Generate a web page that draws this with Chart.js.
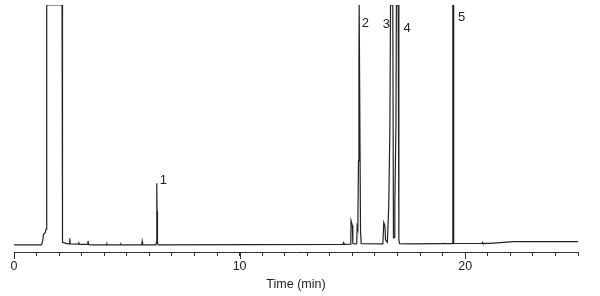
<!DOCTYPE html>
<html><head><meta charset="utf-8">
<script src="https://cdn.jsdelivr.net/npm/chart.js@4.4.0/dist/chart.umd.min.js"></script>
<style>html,body{margin:0;padding:0;background:#fff}canvas{display:block}</style>
</head><body>
<canvas id="c" width="600" height="296"></canvas>
<script>
// Retention time (min)
const times = [
  0.00, 1.22, 1.27, 1.31, 1.38, 1.42, 1.45, 2.13, 2.15, 2.30, 2.45, 2.47, 2.49,
  2.85, 2.88, 2.91, 3.25, 3.28, 3.31, 3.50, 4.10, 4.12, 4.14, 4.72, 4.74, 4.76,
  5.66, 5.68, 5.70, 6.29, 6.31, 6.33, 6.34, 6.36, 6.40,
  14.58, 14.61, 14.64, 14.93, 14.94, 15.00, 15.02, 15.09, 15.19, 15.21, 15.24,
  15.27, 15.29, 15.30, 15.33, 15.36, 15.39,
  16.35, 16.39, 16.44, 16.47, 16.55, 16.61, 16.66, 16.69, 16.79, 16.82, 16.86,
  16.88, 16.93, 16.95, 17.03, 17.06, 17.09,
  17.50, 19.02, 19.04, 19.06, 19.42, 19.45, 19.47, 19.49,
  20.74, 20.76, 20.78, 21.12, 21.70, 22.13, 25.00
];
// Detector signal (relative units, 100 = full scale)
const signal = [
  0.0, 0.0, 1.5, 4.5, 5.0, 6.5, 100, 100, 1.0, 0.6, 0.4, 2.7, 0.4,
  0.3, 0.7, 0.2, 0.2, 1.6, 0.1, 0.0, 0.0, 0.4, 0.0, 0.0, 0.3, 0.0,
  0.0, 1.4, 0.0, 0.0, 1.0, 25.7, 14.0, 0.5, 0.0,
  0.2, 0.9, 0.2, 0.3, 10.1, 8.0, 0.5, 0.4, 0.5, 7.6, 6.5,
  35, 77, 100, 100, 6.0, 0.5,
  0.4, 9.3, 8.0, 2.0, 1.0, 16, 47, 100, 100, 3.0, 3.0,
  16, 50, 100, 100, 2.0, 0.5,
  0.4, 0.5, 0.9, 0.5, 0.5, 100, 100, 0.6,
  0.55, 1.0, 0.6, 0.6, 1.0, 1.3, 1.3
];
const majorTicks = [0, 10, 20];
const peakLabels = ['1', '2', '3', '4', '5'];
const peakLabelTimes = [6.62, 15.58, 16.51, 17.43, 19.84];
const peakLabelLevels = [26.7, 92.5, 92.0, 90.4, 95.0];

const ink = '#222222';
const font = "'Liberation Sans', Arial, sans-serif";

const extras = {
  id: 'extras',
  afterDraw(chart) {
    const ctx = chart.ctx, xs = chart.scales.x, ys = chart.scales.y;
    const bottom = chart.chartArea.bottom;
    ctx.save();
    ctx.strokeStyle = '#333';
    ctx.lineWidth = 1;
    majorTicks.forEach(v => {
      const px = Math.round(xs.getPixelForValue(v)) + 0.5;
      ctx.beginPath(); ctx.moveTo(px, bottom); ctx.lineTo(px, bottom + 7); ctx.stroke();
    });
    ctx.fillStyle = ink;
    ctx.font = '13px ' + font;
    ctx.textAlign = 'center';
    ctx.textBaseline = 'middle';
    peakLabels.forEach((t, i) => {
      ctx.fillText(t, xs.getPixelForValue(peakLabelTimes[i]), ys.getPixelForValue(peakLabelLevels[i]));
    });
    ctx.restore();
  }
};

new Chart(document.getElementById('c'), {
  type: 'line',
  data: {
    datasets: [{
      data: times.map((t, i) => ({ x: t, y: signal[i] })),
      borderColor: ink,
      borderWidth: 1.2,
      pointRadius: 0,
      tension: 0,
      fill: false
    }]
  },
  options: {
    responsive: false,
    animation: false,
    devicePixelRatio: 1,
    layout: { padding: { left: 14, right: 22, top: 5, bottom: 0 } },
    plugins: { legend: { display: false }, tooltip: { enabled: false } },
    scales: {
      x: {
        type: 'linear', min: 0, max: 25,
        border: { display: true, color: '#333', width: 1 },
        grid: { display: true, drawOnChartArea: false, drawTicks: true, tickLength: 4, color: '#333' },
        ticks: {
          stepSize: 1, autoSkip: false, maxRotation: 0, padding: 3,
          color: ink, font: { family: font, size: 12.5 },
          callback: v => (majorTicks.includes(v) ? String(v) : '')
        },
        title: { display: true, text: 'Time (min)', color: ink, font: { family: font, size: 12.5 }, padding: { top: 0.5, bottom: 3.5 } }
      },
      y: { type: 'linear', min: -3, max: 100, display: false }
    }
  },
  plugins: [extras]
});
</script>
</body></html>
